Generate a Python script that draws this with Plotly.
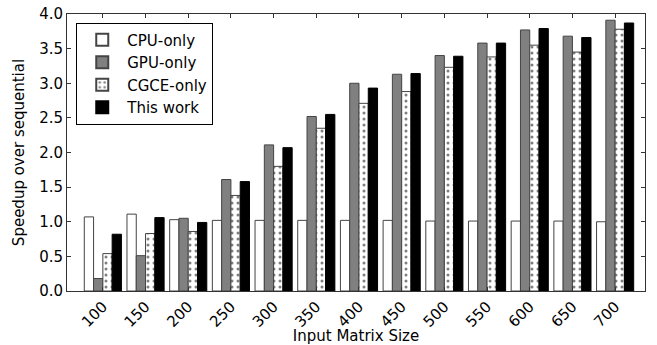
import plotly.graph_objects as go

sizes = ["100", "150", "200", "250", "300", "350", "400", "450", "500", "550", "600", "650", "700"]
cpu_only = [1.07, 1.11, 1.03, 1.02, 1.02, 1.02, 1.02, 1.02, 1.01, 1.01, 1.01, 1.01, 1.00]
gpu_only = [0.18, 0.51, 1.05, 1.61, 2.11, 2.52, 3.00, 3.13, 3.40, 3.58, 3.77, 3.68, 3.91]
cgce_only = [0.54, 0.83, 0.86, 1.38, 1.80, 2.35, 2.71, 2.88, 3.23, 3.38, 3.55, 3.45, 3.78]
this_work = [0.82, 1.06, 0.99, 1.58, 2.07, 2.55, 2.93, 3.14, 3.39, 3.58, 3.79, 3.66, 3.87]

font = "DejaVu Sans, Liberation Sans, sans-serif"
edge = "#444444"

fig = go.Figure()
fig.add_trace(go.Bar(x=sizes, y=cpu_only, name="CPU-only",
                     marker=dict(color="white", line=dict(color=edge, width=1))))
fig.add_trace(go.Bar(x=sizes, y=gpu_only, name="GPU-only",
                     marker=dict(color="#808080", line=dict(color=edge, width=1))))
fig.add_trace(go.Bar(x=sizes, y=cgce_only, name="CGCE-only",
                     marker=dict(color="white", line=dict(color=edge, width=1),
                                 pattern=dict(shape=".", fgcolor="black", bgcolor="white",
                                              size=6, solidity=0.2))))
fig.add_trace(go.Bar(x=sizes, y=this_work, name="This work",
                     marker=dict(color="black", line=dict(color="black", width=1))))

fig.update_layout(
    width=657, height=345,
    margin=dict(l=67, r=12, t=14, b=54),
    paper_bgcolor="white", plot_bgcolor="white",
    barmode="group", bargap=0.13, bargroupgap=0,
    font=dict(family=font, size=15, color="black"),
    showlegend=True,
    legend=dict(x=0.016, y=0.969, xanchor="left", yanchor="top",
                bordercolor="black", borderwidth=1, bgcolor="white",
                font=dict(size=15), tracegroupgap=0, itemsizing="constant",
                itemwidth=40),
)
fig.update_xaxes(
    type="category", range=[-0.84, 12.7], automargin=False,
    showline=True, linecolor="#333333", linewidth=1, mirror="ticks",
    ticks="inside", ticklen=4, tickcolor="#333333",
    tickangle=-45, tickfont=dict(size=15),
    title=dict(text="Input Matrix Size", font=dict(size=15), standoff=2),
    showgrid=False,
)
fig.update_yaxes(
    range=[0, 4.0], dtick=0.5, tickformat=".1f", automargin=False,
    showline=True, linecolor="#333333", linewidth=1, mirror="ticks",
    ticks="inside", ticklen=4, tickcolor="#333333",
    tickfont=dict(size=15), ticklabeloverflow="allow",
    title=dict(text="Speedup over sequential", font=dict(size=15), standoff=10),
    showgrid=False, zeroline=False,
)

fig.write_html("out.html",
               config={"displayModeBar": False},
               post_script="document.body.style.margin='0';document.body.style.padding='0';")
